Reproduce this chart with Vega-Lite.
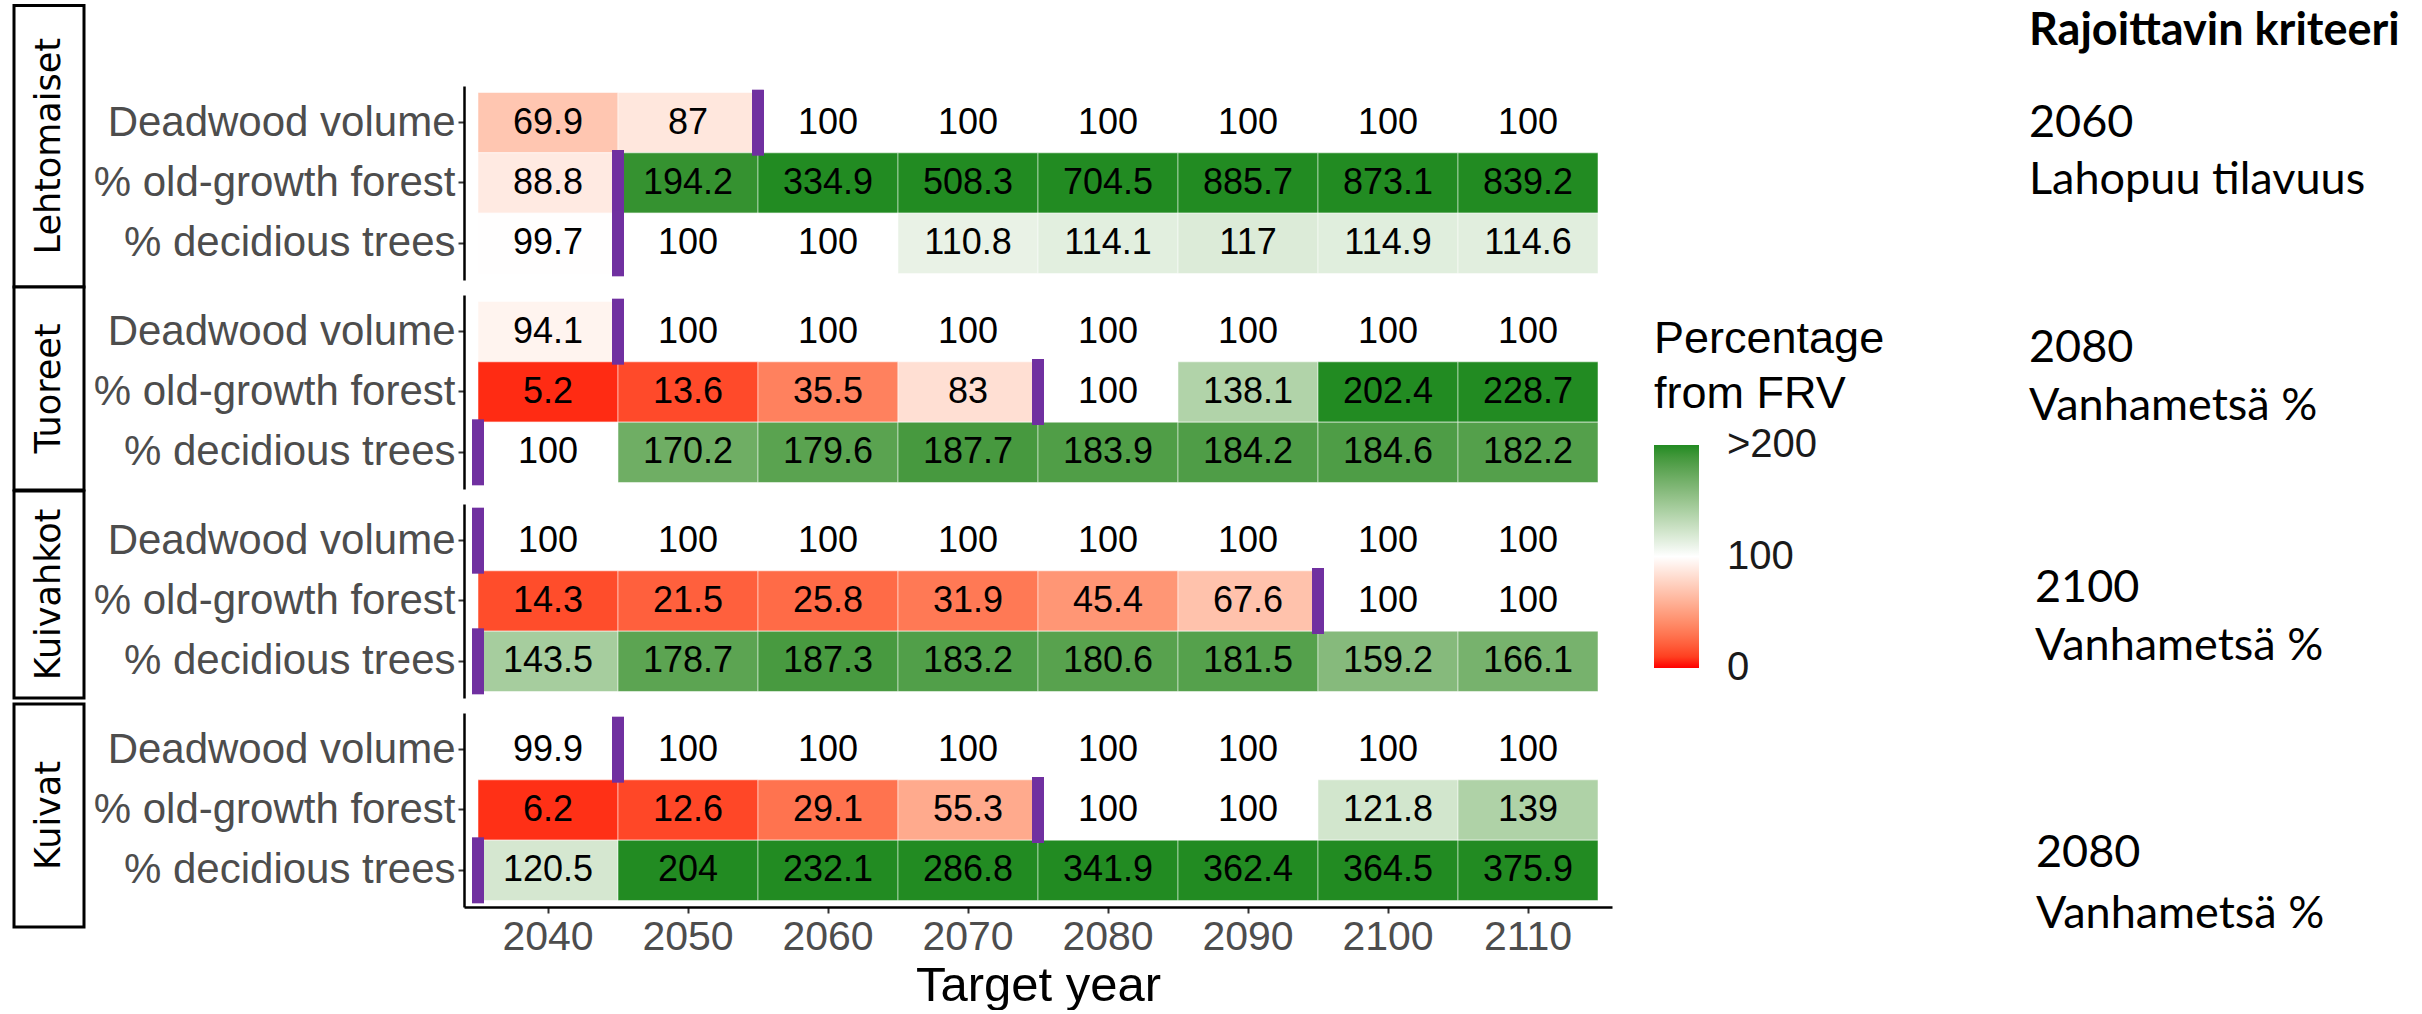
{
  "$schema": "https://vega.github.io/schema/vega-lite/v6.json",
  "background": "white",
  "padding": {"left": 12, "top": 4, "right": 0, "bottom": 0},
  "bounds": "flush",
  "columns": 3,
  "spacing": {"row": 15, "column": 380},
  "datasets": {
    "groups": [
      {"group": "Lehtomaiset"},
      {"group": "Tuoreet"},
      {"group": "Kuivahkot"},
      {"group": "Kuivat"}
    ],
    "limiting": [
      {"group": "Lehtomaiset", "year": 2060, "criterion": "Lahopuu tilavuus"},
      {"group": "Tuoreet", "year": 2080, "criterion": "Vanhametsä %"},
      {"group": "Kuivahkot", "year": 2100, "criterion": "Vanhametsä %"},
      {"group": "Kuivat", "year": 2080, "criterion": "Vanhametsä %"}
    ],
    "cells": [
      {"group": "Lehtomaiset", "criterion": "Deadwood volume", "year": 2040, "value": 69.9},
      {"group": "Lehtomaiset", "criterion": "Deadwood volume", "year": 2050, "value": 87},
      {"group": "Lehtomaiset", "criterion": "Deadwood volume", "year": 2060, "value": 100, "first": true},
      {"group": "Lehtomaiset", "criterion": "Deadwood volume", "year": 2070, "value": 100},
      {"group": "Lehtomaiset", "criterion": "Deadwood volume", "year": 2080, "value": 100},
      {"group": "Lehtomaiset", "criterion": "Deadwood volume", "year": 2090, "value": 100},
      {"group": "Lehtomaiset", "criterion": "Deadwood volume", "year": 2100, "value": 100},
      {"group": "Lehtomaiset", "criterion": "Deadwood volume", "year": 2110, "value": 100},
      {"group": "Lehtomaiset", "criterion": "% old-growth forest", "year": 2040, "value": 88.8},
      {"group": "Lehtomaiset", "criterion": "% old-growth forest", "year": 2050, "value": 194.2, "first": true},
      {"group": "Lehtomaiset", "criterion": "% old-growth forest", "year": 2060, "value": 334.9},
      {"group": "Lehtomaiset", "criterion": "% old-growth forest", "year": 2070, "value": 508.3},
      {"group": "Lehtomaiset", "criterion": "% old-growth forest", "year": 2080, "value": 704.5},
      {"group": "Lehtomaiset", "criterion": "% old-growth forest", "year": 2090, "value": 885.7},
      {"group": "Lehtomaiset", "criterion": "% old-growth forest", "year": 2100, "value": 873.1},
      {"group": "Lehtomaiset", "criterion": "% old-growth forest", "year": 2110, "value": 839.2},
      {"group": "Lehtomaiset", "criterion": "% decidious trees", "year": 2040, "value": 99.7},
      {"group": "Lehtomaiset", "criterion": "% decidious trees", "year": 2050, "value": 100, "first": true},
      {"group": "Lehtomaiset", "criterion": "% decidious trees", "year": 2060, "value": 100},
      {"group": "Lehtomaiset", "criterion": "% decidious trees", "year": 2070, "value": 110.8},
      {"group": "Lehtomaiset", "criterion": "% decidious trees", "year": 2080, "value": 114.1},
      {"group": "Lehtomaiset", "criterion": "% decidious trees", "year": 2090, "value": 117},
      {"group": "Lehtomaiset", "criterion": "% decidious trees", "year": 2100, "value": 114.9},
      {"group": "Lehtomaiset", "criterion": "% decidious trees", "year": 2110, "value": 114.6},

      {"group": "Tuoreet", "criterion": "Deadwood volume", "year": 2040, "value": 94.1},
      {"group": "Tuoreet", "criterion": "Deadwood volume", "year": 2050, "value": 100, "first": true},
      {"group": "Tuoreet", "criterion": "Deadwood volume", "year": 2060, "value": 100},
      {"group": "Tuoreet", "criterion": "Deadwood volume", "year": 2070, "value": 100},
      {"group": "Tuoreet", "criterion": "Deadwood volume", "year": 2080, "value": 100},
      {"group": "Tuoreet", "criterion": "Deadwood volume", "year": 2090, "value": 100},
      {"group": "Tuoreet", "criterion": "Deadwood volume", "year": 2100, "value": 100},
      {"group": "Tuoreet", "criterion": "Deadwood volume", "year": 2110, "value": 100},
      {"group": "Tuoreet", "criterion": "% old-growth forest", "year": 2040, "value": 5.2},
      {"group": "Tuoreet", "criterion": "% old-growth forest", "year": 2050, "value": 13.6},
      {"group": "Tuoreet", "criterion": "% old-growth forest", "year": 2060, "value": 35.5},
      {"group": "Tuoreet", "criterion": "% old-growth forest", "year": 2070, "value": 83},
      {"group": "Tuoreet", "criterion": "% old-growth forest", "year": 2080, "value": 100, "first": true},
      {"group": "Tuoreet", "criterion": "% old-growth forest", "year": 2090, "value": 138.1},
      {"group": "Tuoreet", "criterion": "% old-growth forest", "year": 2100, "value": 202.4},
      {"group": "Tuoreet", "criterion": "% old-growth forest", "year": 2110, "value": 228.7},
      {"group": "Tuoreet", "criterion": "% decidious trees", "year": 2040, "value": 100, "first": true},
      {"group": "Tuoreet", "criterion": "% decidious trees", "year": 2050, "value": 170.2},
      {"group": "Tuoreet", "criterion": "% decidious trees", "year": 2060, "value": 179.6},
      {"group": "Tuoreet", "criterion": "% decidious trees", "year": 2070, "value": 187.7},
      {"group": "Tuoreet", "criterion": "% decidious trees", "year": 2080, "value": 183.9},
      {"group": "Tuoreet", "criterion": "% decidious trees", "year": 2090, "value": 184.2},
      {"group": "Tuoreet", "criterion": "% decidious trees", "year": 2100, "value": 184.6},
      {"group": "Tuoreet", "criterion": "% decidious trees", "year": 2110, "value": 182.2},

      {"group": "Kuivahkot", "criterion": "Deadwood volume", "year": 2040, "value": 100, "first": true},
      {"group": "Kuivahkot", "criterion": "Deadwood volume", "year": 2050, "value": 100},
      {"group": "Kuivahkot", "criterion": "Deadwood volume", "year": 2060, "value": 100},
      {"group": "Kuivahkot", "criterion": "Deadwood volume", "year": 2070, "value": 100},
      {"group": "Kuivahkot", "criterion": "Deadwood volume", "year": 2080, "value": 100},
      {"group": "Kuivahkot", "criterion": "Deadwood volume", "year": 2090, "value": 100},
      {"group": "Kuivahkot", "criterion": "Deadwood volume", "year": 2100, "value": 100},
      {"group": "Kuivahkot", "criterion": "Deadwood volume", "year": 2110, "value": 100},
      {"group": "Kuivahkot", "criterion": "% old-growth forest", "year": 2040, "value": 14.3},
      {"group": "Kuivahkot", "criterion": "% old-growth forest", "year": 2050, "value": 21.5},
      {"group": "Kuivahkot", "criterion": "% old-growth forest", "year": 2060, "value": 25.8},
      {"group": "Kuivahkot", "criterion": "% old-growth forest", "year": 2070, "value": 31.9},
      {"group": "Kuivahkot", "criterion": "% old-growth forest", "year": 2080, "value": 45.4},
      {"group": "Kuivahkot", "criterion": "% old-growth forest", "year": 2090, "value": 67.6},
      {"group": "Kuivahkot", "criterion": "% old-growth forest", "year": 2100, "value": 100, "first": true},
      {"group": "Kuivahkot", "criterion": "% old-growth forest", "year": 2110, "value": 100},
      {"group": "Kuivahkot", "criterion": "% decidious trees", "year": 2040, "value": 143.5, "first": true},
      {"group": "Kuivahkot", "criterion": "% decidious trees", "year": 2050, "value": 178.7},
      {"group": "Kuivahkot", "criterion": "% decidious trees", "year": 2060, "value": 187.3},
      {"group": "Kuivahkot", "criterion": "% decidious trees", "year": 2070, "value": 183.2},
      {"group": "Kuivahkot", "criterion": "% decidious trees", "year": 2080, "value": 180.6},
      {"group": "Kuivahkot", "criterion": "% decidious trees", "year": 2090, "value": 181.5},
      {"group": "Kuivahkot", "criterion": "% decidious trees", "year": 2100, "value": 159.2},
      {"group": "Kuivahkot", "criterion": "% decidious trees", "year": 2110, "value": 166.1},

      {"group": "Kuivat", "criterion": "Deadwood volume", "year": 2040, "value": 99.9},
      {"group": "Kuivat", "criterion": "Deadwood volume", "year": 2050, "value": 100, "first": true},
      {"group": "Kuivat", "criterion": "Deadwood volume", "year": 2060, "value": 100},
      {"group": "Kuivat", "criterion": "Deadwood volume", "year": 2070, "value": 100},
      {"group": "Kuivat", "criterion": "Deadwood volume", "year": 2080, "value": 100},
      {"group": "Kuivat", "criterion": "Deadwood volume", "year": 2090, "value": 100},
      {"group": "Kuivat", "criterion": "Deadwood volume", "year": 2100, "value": 100},
      {"group": "Kuivat", "criterion": "Deadwood volume", "year": 2110, "value": 100},
      {"group": "Kuivat", "criterion": "% old-growth forest", "year": 2040, "value": 6.2},
      {"group": "Kuivat", "criterion": "% old-growth forest", "year": 2050, "value": 12.6},
      {"group": "Kuivat", "criterion": "% old-growth forest", "year": 2060, "value": 29.1},
      {"group": "Kuivat", "criterion": "% old-growth forest", "year": 2070, "value": 55.3},
      {"group": "Kuivat", "criterion": "% old-growth forest", "year": 2080, "value": 100, "first": true},
      {"group": "Kuivat", "criterion": "% old-growth forest", "year": 2090, "value": 100},
      {"group": "Kuivat", "criterion": "% old-growth forest", "year": 2100, "value": 121.8},
      {"group": "Kuivat", "criterion": "% old-growth forest", "year": 2110, "value": 139},
      {"group": "Kuivat", "criterion": "% decidious trees", "year": 2040, "value": 120.5, "first": true},
      {"group": "Kuivat", "criterion": "% decidious trees", "year": 2050, "value": 204},
      {"group": "Kuivat", "criterion": "% decidious trees", "year": 2060, "value": 232.1},
      {"group": "Kuivat", "criterion": "% decidious trees", "year": 2070, "value": 286.8},
      {"group": "Kuivat", "criterion": "% decidious trees", "year": 2080, "value": 341.9},
      {"group": "Kuivat", "criterion": "% decidious trees", "year": 2090, "value": 362.4},
      {"group": "Kuivat", "criterion": "% decidious trees", "year": 2100, "value": 364.5},
      {"group": "Kuivat", "criterion": "% decidious trees", "year": 2110, "value": 375.9}
    ]
  },
  "resolve": {
    "scale": {"y": "independent", "color": "shared"},
    "legend": {"color": "shared"}
  },
  "concat": [
    {
      "width": 70, "height": 194,
      "data": {"name": "groups"},
      "transform": [{"filter": "datum.group === 'Lehtomaiset'"}],
      "encoding": {"y": {"field": "group", "type": "nominal", "axis": null,
                         "scale": {"range": [-80.5, 201], "paddingInner": 0, "paddingOuter": 0}}},
      "layer": [
        {"mark": {"type": "rect", "fill": "white", "stroke": "black", "strokeWidth": 3}},
        {"mark": {"type": "text", "angle": 270, "font": "DejaVu Sans", "fontSize": 35, "color": "black"},
         "encoding": {"text": {"field": "group", "type": "nominal"}}}
      ]
    },
    {
      "width": 1148, "height": 194,
      "data": {"name": "cells"},
      "transform": [{"filter": "datum.group === 'Lehtomaiset'"}],
      "encoding": {
        "x": {"field": "year", "type": "ordinal", "scale": {"paddingInner": 0, "paddingOuter": 0.1}, "axis": null},
        "y": {"field": "criterion", "type": "nominal",
              "sort": ["Deadwood volume", "% old-growth forest", "% decidious trees"],
              "scale": {"paddingInner": 0, "paddingOuter": 0.108}, "axis": {"title": null}}
      },
      "layer": [
        {"mark": {"type": "rect", "stroke": "white", "strokeWidth": 1, "strokeOpacity": 0.5},
         "encoding": {"color": {"field": "value", "type": "quantitative",
           "scale": {"domain": [0, 100, 200], "range": ["#FF0000", "#FFFFFF", "#228B22"], "interpolate": "lab", "clamp": true},
           "legend": {"title": ["Percentage", "from FRV"], "orient": "none", "direction": "vertical",
             "legendX": 1640, "legendY": 231, "values": [0, 100, 200],
             "labelExpr": "datum.value >= 200 ? '>200' : datum.label",
             "gradientLength": 223, "gradientThickness": 45, "gradientStrokeWidth": 0,
             "titleFont": "Liberation Sans", "titleFontSize": 45, "titleFontWeight": "normal", "titleColor": "black",
             "titleLineHeight": 55, "titlePadding": 28, "titleLimit": 600,
             "labelFont": "Liberation Sans", "labelFontSize": 40, "labelColor": "#1A1A1A", "labelOffset": 28, "labelBaseline": "middle",
             "encode": {"labels": {"update": {"baseline": {"value": "middle"}}}}}}}},
        {"mark": {"type": "text", "font": "Liberation Sans", "fontSize": 36, "color": "black"},
         "encoding": {"text": {"field": "value", "type": "nominal"}}},
        {"transform": [{"filter": "datum.first"}],
         "mark": {"type": "tick", "orient": "vertical", "color": "#7030A0", "thickness": 12, "size": 66, "opacity": 1},
         "encoding": {"x": {"field": "year", "type": "ordinal", "bandPosition": 0}}}
      ]
    },
    {
      "width": 74, "height": 194,
      "data": {"name": "limiting"},
      "transform": [{"filter": "datum.group === 'Lehtomaiset'"}],
      "title": {"text": "Rajoittavin kriteeri", "frame": "group", "anchor": "middle", "align": "left",
                "font": "Lato", "fontSize": 45, "fontWeight": "bold", "color": "black",
                "baseline": "alphabetic", "offset": -4},
      "layer": [
        {"mark": {"type": "text", "align": "left", "baseline": "middle", "dy": -60, "font": "Lato", "fontSize": 45, "color": "black"},
         "encoding": {"text": {"field": "year", "type": "nominal"}}},
        {"mark": {"type": "text", "align": "left", "baseline": "middle", "dy": -3, "font": "Lato", "fontSize": 45, "color": "black"},
         "encoding": {"text": {"field": "criterion", "type": "nominal"}}}
      ]
    },

    {
      "width": 70, "height": 194,
      "data": {"name": "groups"},
      "transform": [{"filter": "datum.group === 'Tuoreet'"}],
      "encoding": {"y": {"field": "group", "type": "nominal", "axis": null,
                         "scale": {"range": [-8, 195], "paddingInner": 0, "paddingOuter": 0}}},
      "layer": [
        {"mark": {"type": "rect", "fill": "white", "stroke": "black", "strokeWidth": 3}},
        {"mark": {"type": "text", "angle": 270, "font": "DejaVu Sans", "fontSize": 35, "color": "black"},
         "encoding": {"text": {"field": "group", "type": "nominal"}}}
      ]
    },
    {
      "width": 1148, "height": 194,
      "data": {"name": "cells"},
      "transform": [{"filter": "datum.group === 'Tuoreet'"}],
      "encoding": {
        "x": {"field": "year", "type": "ordinal", "scale": {"paddingInner": 0, "paddingOuter": 0.1}, "axis": null},
        "y": {"field": "criterion", "type": "nominal",
              "sort": ["Deadwood volume", "% old-growth forest", "% decidious trees"],
              "scale": {"paddingInner": 0, "paddingOuter": 0.108}, "axis": {"title": null}}
      },
      "layer": [
        {"mark": {"type": "rect", "stroke": "white", "strokeWidth": 1, "strokeOpacity": 0.5},
         "encoding": {"color": {"field": "value", "type": "quantitative",
           "scale": {"domain": [0, 100, 200], "range": ["#FF0000", "#FFFFFF", "#228B22"], "interpolate": "lab", "clamp": true},
           "legend": {"title": ["Percentage", "from FRV"], "orient": "none", "direction": "vertical",
             "legendX": 1640, "legendY": 231, "values": [0, 100, 200],
             "labelExpr": "datum.value >= 200 ? '>200' : datum.label",
             "gradientLength": 223, "gradientThickness": 45, "gradientStrokeWidth": 0,
             "titleFont": "Liberation Sans", "titleFontSize": 45, "titleFontWeight": "normal", "titleColor": "black",
             "titleLineHeight": 55, "titlePadding": 28, "titleLimit": 600,
             "labelFont": "Liberation Sans", "labelFontSize": 40, "labelColor": "#1A1A1A", "labelOffset": 28, "labelBaseline": "middle",
             "encode": {"labels": {"update": {"baseline": {"value": "middle"}}}}}}}},
        {"mark": {"type": "text", "font": "Liberation Sans", "fontSize": 36, "color": "black"},
         "encoding": {"text": {"field": "value", "type": "nominal"}}},
        {"transform": [{"filter": "datum.first"}],
         "mark": {"type": "tick", "orient": "vertical", "color": "#7030A0", "thickness": 12, "size": 66, "opacity": 1},
         "encoding": {"x": {"field": "year", "type": "ordinal", "bandPosition": 0}}}
      ]
    },
    {
      "width": 74, "height": 194,
      "data": {"name": "limiting"},
      "transform": [{"filter": "datum.group === 'Tuoreet'"}],
      "layer": [
        {"mark": {"type": "text", "align": "left", "baseline": "middle", "dy": -44, "font": "Lato", "fontSize": 45, "color": "black"},
         "encoding": {"text": {"field": "year", "type": "nominal"}}},
        {"mark": {"type": "text", "align": "left", "baseline": "middle", "dy": 14, "font": "Lato", "fontSize": 45, "color": "black"},
         "encoding": {"text": {"field": "criterion", "type": "nominal"}}}
      ]
    },

    {
      "width": 70, "height": 194,
      "data": {"name": "groups"},
      "transform": [{"filter": "datum.group === 'Kuivahkot'"}],
      "encoding": {"y": {"field": "group", "type": "nominal", "axis": null,
                         "scale": {"range": [-13, 194], "paddingInner": 0, "paddingOuter": 0}}},
      "layer": [
        {"mark": {"type": "rect", "fill": "white", "stroke": "black", "strokeWidth": 3}},
        {"mark": {"type": "text", "angle": 270, "font": "DejaVu Sans", "fontSize": 35, "color": "black"},
         "encoding": {"text": {"field": "group", "type": "nominal"}}}
      ]
    },
    {
      "width": 1148, "height": 194,
      "data": {"name": "cells"},
      "transform": [{"filter": "datum.group === 'Kuivahkot'"}],
      "encoding": {
        "x": {"field": "year", "type": "ordinal", "scale": {"paddingInner": 0, "paddingOuter": 0.1}, "axis": null},
        "y": {"field": "criterion", "type": "nominal",
              "sort": ["Deadwood volume", "% old-growth forest", "% decidious trees"],
              "scale": {"paddingInner": 0, "paddingOuter": 0.108}, "axis": {"title": null}}
      },
      "layer": [
        {"mark": {"type": "rect", "stroke": "white", "strokeWidth": 1, "strokeOpacity": 0.5},
         "encoding": {"color": {"field": "value", "type": "quantitative",
           "scale": {"domain": [0, 100, 200], "range": ["#FF0000", "#FFFFFF", "#228B22"], "interpolate": "lab", "clamp": true},
           "legend": {"title": ["Percentage", "from FRV"], "orient": "none", "direction": "vertical",
             "legendX": 1640, "legendY": 231, "values": [0, 100, 200],
             "labelExpr": "datum.value >= 200 ? '>200' : datum.label",
             "gradientLength": 223, "gradientThickness": 45, "gradientStrokeWidth": 0,
             "titleFont": "Liberation Sans", "titleFontSize": 45, "titleFontWeight": "normal", "titleColor": "black",
             "titleLineHeight": 55, "titlePadding": 28, "titleLimit": 600,
             "labelFont": "Liberation Sans", "labelFontSize": 40, "labelColor": "#1A1A1A", "labelOffset": 28, "labelBaseline": "middle",
             "encode": {"labels": {"update": {"baseline": {"value": "middle"}}}}}}}},
        {"mark": {"type": "text", "font": "Liberation Sans", "fontSize": 36, "color": "black"},
         "encoding": {"text": {"field": "value", "type": "nominal"}}},
        {"transform": [{"filter": "datum.first"}],
         "mark": {"type": "tick", "orient": "vertical", "color": "#7030A0", "thickness": 12, "size": 66, "opacity": 1},
         "encoding": {"x": {"field": "year", "type": "ordinal", "bandPosition": 0}}}
      ]
    },
    {
      "width": 74, "height": 194,
      "data": {"name": "limiting"},
      "transform": [{"filter": "datum.group === 'Kuivahkot'"}],
      "layer": [
        {"mark": {"type": "text", "align": "left", "baseline": "middle", "dx": 6, "dy": -13, "font": "Lato", "fontSize": 45, "color": "black"},
         "encoding": {"text": {"field": "year", "type": "nominal"}}},
        {"mark": {"type": "text", "align": "left", "baseline": "middle", "dx": 6, "dy": 45, "font": "Lato", "fontSize": 45, "color": "black"},
         "encoding": {"text": {"field": "criterion", "type": "nominal"}}}
      ]
    },

    {
      "width": 70, "height": 194,
      "data": {"name": "groups"},
      "transform": [{"filter": "datum.group === 'Kuivat'"}],
      "encoding": {"y": {"field": "group", "type": "nominal", "axis": null,
                         "scale": {"range": [-9, 214], "paddingInner": 0, "paddingOuter": 0}}},
      "layer": [
        {"mark": {"type": "rect", "fill": "white", "stroke": "black", "strokeWidth": 3}},
        {"mark": {"type": "text", "angle": 270, "font": "DejaVu Sans", "fontSize": 35, "color": "black"},
         "encoding": {"text": {"field": "group", "type": "nominal"}}}
      ]
    },
    {
      "width": 1148, "height": 194,
      "data": {"name": "cells"},
      "transform": [{"filter": "datum.group === 'Kuivat'"}],
      "encoding": {
        "x": {"field": "year", "type": "ordinal", "scale": {"paddingInner": 0, "paddingOuter": 0.1},
              "axis": {"title": "Target year", "labelAngle": 0}},
        "y": {"field": "criterion", "type": "nominal",
              "sort": ["Deadwood volume", "% old-growth forest", "% decidious trees"],
              "scale": {"paddingInner": 0, "paddingOuter": 0.108}, "axis": {"title": null}}
      },
      "layer": [
        {"mark": {"type": "rect", "stroke": "white", "strokeWidth": 1, "strokeOpacity": 0.5},
         "encoding": {"color": {"field": "value", "type": "quantitative",
           "scale": {"domain": [0, 100, 200], "range": ["#FF0000", "#FFFFFF", "#228B22"], "interpolate": "lab", "clamp": true},
           "legend": {"title": ["Percentage", "from FRV"], "orient": "none", "direction": "vertical",
             "legendX": 1640, "legendY": 231, "values": [0, 100, 200],
             "labelExpr": "datum.value >= 200 ? '>200' : datum.label",
             "gradientLength": 223, "gradientThickness": 45, "gradientStrokeWidth": 0,
             "titleFont": "Liberation Sans", "titleFontSize": 45, "titleFontWeight": "normal", "titleColor": "black",
             "titleLineHeight": 55, "titlePadding": 28, "titleLimit": 600,
             "labelFont": "Liberation Sans", "labelFontSize": 40, "labelColor": "#1A1A1A", "labelOffset": 28, "labelBaseline": "middle",
             "encode": {"labels": {"update": {"baseline": {"value": "middle"}}}}}}}},
        {"mark": {"type": "text", "font": "Liberation Sans", "fontSize": 36, "color": "black"},
         "encoding": {"text": {"field": "value", "type": "nominal"}}},
        {"transform": [{"filter": "datum.first"}],
         "mark": {"type": "tick", "orient": "vertical", "color": "#7030A0", "thickness": 12, "size": 66, "opacity": 1},
         "encoding": {"x": {"field": "year", "type": "ordinal", "bandPosition": 0}}}
      ]
    },
    {
      "width": 74, "height": 194,
      "data": {"name": "limiting"},
      "transform": [{"filter": "datum.group === 'Kuivat'"}],
      "layer": [
        {"mark": {"type": "text", "align": "left", "baseline": "middle", "dx": 7, "dy": 43, "font": "Lato", "fontSize": 45, "color": "black"},
         "encoding": {"text": {"field": "year", "type": "nominal"}}},
        {"mark": {"type": "text", "align": "left", "baseline": "middle", "dx": 7, "dy": 104, "font": "Lato", "fontSize": 45, "color": "black"},
         "encoding": {"text": {"field": "criterion", "type": "nominal"}}}
      ]
    }
  ],
  "config": {
    "view": {"stroke": null},
    "font": "Liberation Sans",
    "axis": {
      "grid": false,
      "domainColor": "black",
      "domainWidth": 2.5,
      "tickColor": "#333333",
      "tickWidth": 2,
      "tickSize": 6,
      "labelColor": "#4D4D4D",
      "labelFont": "Liberation Sans",
      "labelLimit": 0,
      "titleFont": "Liberation Sans",
      "titleFontWeight": "normal",
      "titleColor": "black"
    },
    "axisY": {"labelFontSize": 42, "labelPadding": 3},
    "axisX": {"labelFontSize": 41, "labelPadding": 4, "titleFontSize": 49, "titlePadding": 4}
  }
}
